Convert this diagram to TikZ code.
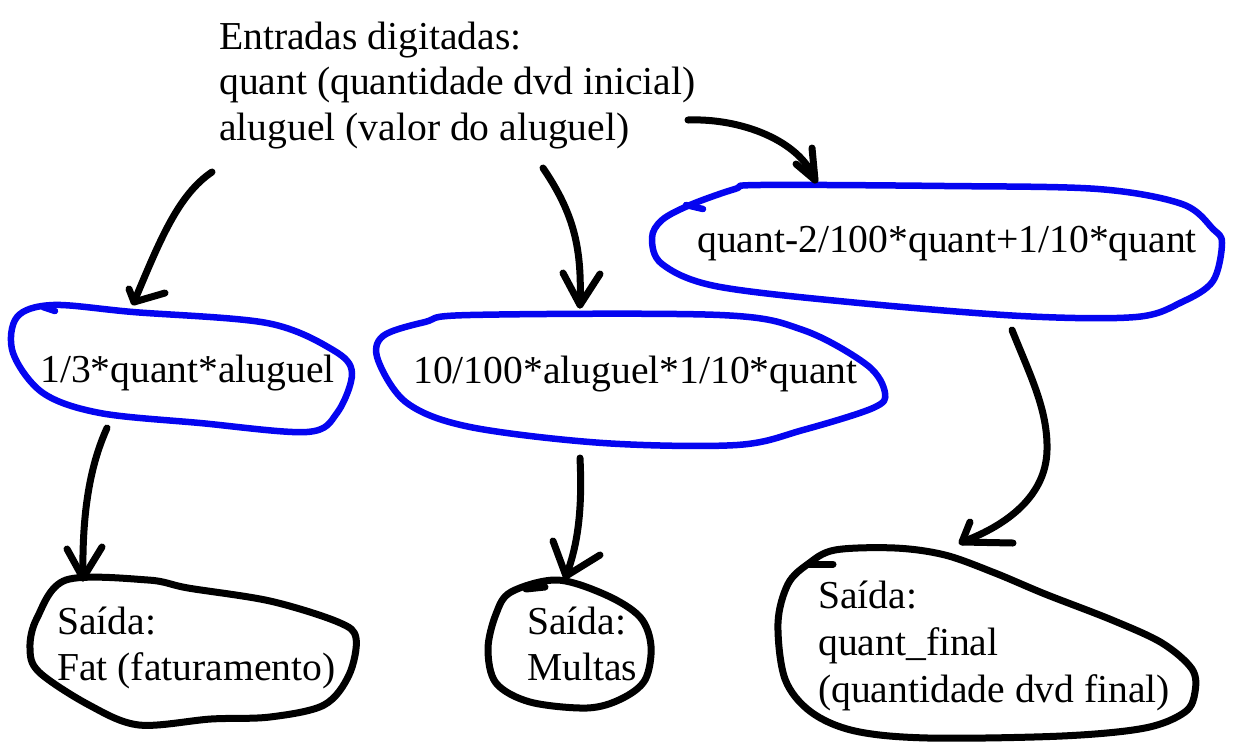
\documentclass[tikz,border=0pt]{standalone}
\usepackage{fontspec}
\setmainfont{Liberation Serif}
\definecolor{penblue}{RGB}{5,5,240}
\begin{document}
\begin{tikzpicture}[x=1pt,y=-1pt,
  txt/.style={inner sep=0pt, align=left, anchor=base west, font=\fontsize{39.6}{45.5}\selectfont},
  bluepen/.style={draw=penblue, line width=6.5pt, line cap=round, line join=round},
  blackpen/.style={draw=black, line width=7pt, line cap=round, line join=round},
  conn/.style={draw=black, line width=7pt, line cap=round, line join=round}]
\useasboundingbox[fill=white] (0,0) rectangle (1248,748);

% texts (base anchor of a multi-line node = baseline of its last line)
\node[txt] (in) at (219,140) {Entradas digitadas:\\quant (quantidade dvd inicial)\\aluguel (valor do aluguel)};
\node[txt] (f1) at (40,382) {1/3*quant*aluguel};
\node[txt] (f2) at (413,383) {10/100*aluguel*1/10*quant};
\node[txt] (f3) at (697,252) {quant-2/100*quant+1/10*quant};
\node[txt] (o1) at (57,680) {Saída:\\Fat (faturamento)};
\node[txt] (o2) at (527,680) {Saída:\\Multas};
\node[txt, font=\fontsize{39.6}{47}\selectfont] (o3) at (818,702) {Saída:\\quant\_final\\(quantidade dvd final)};

% blue outlines
\draw[bluepen] plot[smooth cycle, tension=0.55] coordinates {(17,317) (53,305) (133,312) (267,323) (333,350) (352,373) (337,413) (307,432) (200,423) (100,413) (43,393) (13,353)};
\draw[bluepen] (43,307) -- (55,311);
\draw[bluepen] plot[smooth cycle, tension=0.55] coordinates {(383,336) (425,322) (470,315) (720,315) (803,330) (867,365) (885,393) (873,408) (803,430) (737,445) (603,443) (470,427) (407,403) (378,360)};
\draw[bluepen] plot[smooth cycle, tension=0.55] coordinates {(690,205) (735,189) (760,185) (945,186) (1098,189) (1182,204) (1213,229) (1222,243) (1213,281) (1182,302) (1136,317) (1021,316) (849,302) (715,286) (662,264) (652,238) (662,220)};
\draw[bluepen] (686,205) -- (703,209);

% black outlines
\draw[blackpen] plot[smooth cycle, tension=0.55] coordinates {(66,580) (148,580) (188,588) (270,601) (338,622) (356,638) (349,675) (324,705) (270,717) (211,719) (139,725) (89,705) (39,672) (30,648) (37,618)};
\draw[blackpen] plot[smooth cycle, tension=0.55] coordinates {(511,592) (557,580) (606,595) (640,617) (651,646) (645,680) (621,699) (587,708) (530,702) (496,683) (488,649) (496,614)};
\draw[blackpen] (526,589) -- (545,587);
\draw[blackpen] plot[smooth cycle, tension=0.55] coordinates {(835,550) (895,548) (945,555) (995,573) (1045,594) (1112,620) (1162,643) (1192,669) (1195,692) (1185,712) (1145,728) (1062,736) (928,738) (855,731) (811,712) (785,679) (778,623) (788,584) (808,564)};
\draw[blackpen] (808,564) -- (833,564);

% connector end points
\coordinate (a1s) at (212,172); \coordinate (a1t) at (134,302);
\coordinate (a2s) at (543,168); \coordinate (a2t) at (580,305);
\coordinate (a3s) at (688,120); \coordinate (a3t) at (815,180);
\coordinate (a4s) at (107,428); \coordinate (a4t) at (83,578);
\coordinate (a5s) at (580,458); \coordinate (a5t) at (566,576);
\coordinate (a6s) at (1012,330); \coordinate (a6m) at (1047,450); \coordinate (a6t) at (962,542);

% connectors
\draw[conn] (a1s) .. controls (178,195) and (160,240) .. (a1t);
\draw[conn] (129,289) -- (a1t) -- (165,293);
\draw[conn] (a2s) .. controls (575,215) and (582,250) .. (a2t);
\draw[conn] (563,273) -- (a2t) -- (600,274);
\draw[conn] (a3s) .. controls (740,118) and (800,140) .. (a3t);
\draw[conn] (796,164) -- (a3t) -- (812,148);
\draw[conn] (a4s) .. controls (88,470) and (82,520) .. (a4t);
\draw[conn] (67,549) -- (a4t) -- (102,547);
\draw[conn] (a5s) .. controls (582,500) and (580,540) .. (a5t);
\draw[conn] (553,541) -- (a5t) -- (600,555);
\draw[conn] (a6s) .. controls (1030,375) and (1048,410) .. (a6m) .. controls (1046,500) and (1000,528) .. (a6t);
\draw[conn] (970,522) -- (a6t) -- (1013,543);
\end{tikzpicture}
\end{document}
